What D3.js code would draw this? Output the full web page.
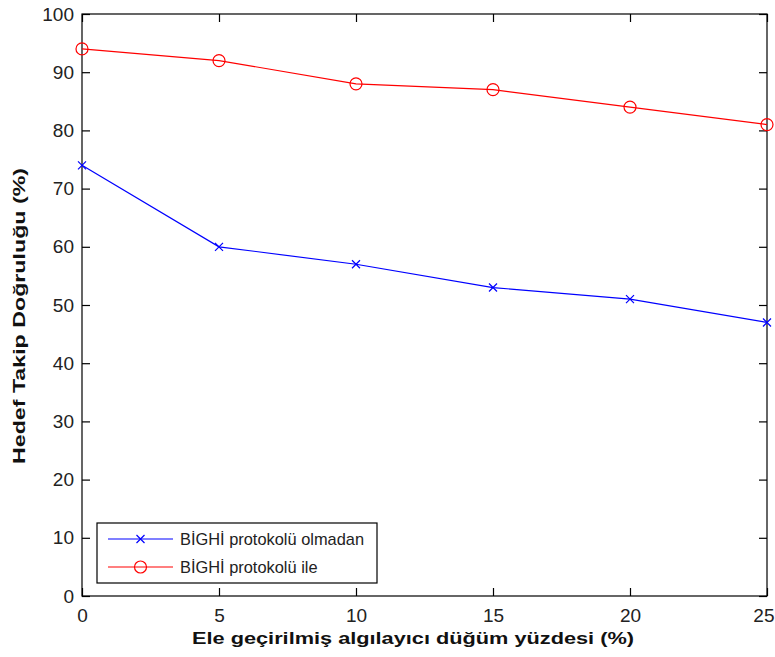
<!DOCTYPE html>
<html>
<head>
<meta charset="utf-8">
<script src="https://cdn.jsdelivr.net/npm/d3@7"></script>
<style>
  body { margin: 0; background: #fff; }
  svg { display: block; }
  text { font-family: "Liberation Sans", Arial, sans-serif; }
</style>
</head>
<body>
<svg id="chart" width="775" height="657"></svg>
<script>
// Percentage of captured sensor nodes
const xValues = [0, 5, 10, 15, 20, 25];
// Target tracking accuracy without / with the BİGHİ protocol
const withoutProtocol = [74, 60, 57, 53, 51, 47];
const withProtocol = [94, 92, 88, 87, 84, 81];
const xTicks = [0, 5, 10, 15, 20, 25];
const yTicks = [0, 10, 20, 30, 40, 50, 60, 70, 80, 90, 100];
const seriesNames = ["BİGHİ protokolü olmadan", "BİGHİ protokolü ile"];
const xLabel = "Ele geçirilmiş algılayıcı düğüm yüzdesi (%)";
const yLabel = "Hedef Takip Doğruluğu (%)";

const svg = d3.select("#chart");
const plotLeft = 82, plotRight = 767, plotTop = 14, plotBottom = 596;

const x = d3.scaleLinear().domain([0, 25]).range([plotLeft, plotRight]);
const y = d3.scaleLinear().domain([0, 100]).range([plotBottom, plotTop]);
const tickLen = 8;

// Plot box
svg.append("rect")
  .attr("x", plotLeft).attr("y", plotTop)
  .attr("width", plotRight - plotLeft).attr("height", plotBottom - plotTop)
  .attr("fill", "none").attr("stroke", "#000").attr("stroke-width", 1.2);

// Axes (ticks inward, on all four sides)
const xAxis = svg.append("g").attr("transform", `translate(0,${plotBottom})`)
  .call(d3.axisBottom(x).tickValues(xTicks).tickSizeInner(-tickLen).tickSizeOuter(0).tickPadding(13));
const xAxisTop = svg.append("g").attr("transform", `translate(0,${plotTop})`)
  .call(d3.axisTop(x).tickValues(xTicks).tickSizeInner(-tickLen).tickSizeOuter(0).tickFormat(""));
const yAxis = svg.append("g").attr("transform", `translate(${plotLeft},0)`)
  .call(d3.axisLeft(y).tickValues(yTicks).tickSizeInner(-tickLen).tickSizeOuter(0).tickPadding(8));
const yAxisRight = svg.append("g").attr("transform", `translate(${plotRight},0)`)
  .call(d3.axisRight(y).tickValues(yTicks).tickSizeInner(-tickLen).tickSizeOuter(0).tickFormat(""));

[xAxis, xAxisTop, yAxis, yAxisRight].forEach(g => {
  g.select(".domain").remove();
  g.selectAll(".tick line").attr("stroke", "#000").attr("stroke-width", 1.2);
  g.selectAll(".tick text")
    .attr("fill", "#222")
    .style("font-family", "'Liberation Sans', Arial, sans-serif")
    .style("font-size", "19px");
});

// Keep the last x tick label inside the page edge
xAxis.selectAll(".tick text")
  .filter(d => d === xTicks[xTicks.length - 1])
  .attr("text-anchor", "end")
  .attr("x", 774 - plotRight);

// Series
const line = d3.line().x((d, i) => x(xValues[i])).y(d => y(d));

svg.append("path").datum(withoutProtocol)
  .attr("d", line).attr("fill", "none").attr("stroke", "#0000ff").attr("stroke-width", 1.2);
svg.append("path").datum(withProtocol)
  .attr("d", line).attr("fill", "none").attr("stroke", "#ff0000").attr("stroke-width", 1.2);

function crossMarker(g, cx, cy) {
  const s = 4;
  g.append("path")
    .attr("d", `M${cx - s},${cy - s}L${cx + s},${cy + s}M${cx - s},${cy + s}L${cx + s},${cy - s}`)
    .attr("stroke", "#0000ff").attr("stroke-width", 1.2).attr("fill", "none");
}
function circleMarker(g, cx, cy) {
  g.append("circle").attr("cx", cx).attr("cy", cy).attr("r", 6)
    .attr("fill", "none").attr("stroke", "#ff0000").attr("stroke-width", 1.2);
}

const marks = svg.append("g");
withoutProtocol.forEach((v, i) => crossMarker(marks, x(xValues[i]), y(v)));
withProtocol.forEach((v, i) => circleMarker(marks, x(xValues[i]), y(v)));

// Axis titles
svg.append("text")
  .attr("x", 413).attr("y", 644)
  .attr("text-anchor", "middle")
  .attr("font-weight", "bold").attr("font-size", "17px")
  .attr("textLength", 442).attr("lengthAdjust", "spacingAndGlyphs")
  .attr("fill", "#111")
  .text(xLabel);

svg.append("text")
  .attr("transform", "translate(25,316) rotate(-90)")
  .attr("text-anchor", "middle")
  .attr("font-weight", "bold").attr("font-size", "17px")
  .attr("textLength", 296).attr("lengthAdjust", "spacingAndGlyphs")
  .attr("fill", "#111")
  .text(yLabel);

// Legend
const legend = svg.append("g");
legend.append("rect")
  .attr("x", 97).attr("y", 523).attr("width", 280).attr("height", 60)
  .attr("fill", "#fff").attr("stroke", "#000").attr("stroke-width", 1.2);

const legendRows = [
  { name: seriesNames[0], color: "#0000ff", marker: crossMarker, yy: 539 },
  { name: seriesNames[1], color: "#ff0000", marker: circleMarker, yy: 567 }
];
legendRows.forEach(r => {
  legend.append("line")
    .attr("x1", 108).attr("x2", 173).attr("y1", r.yy).attr("y2", r.yy)
    .attr("stroke", r.color).attr("stroke-width", 1.2);
  r.marker(legend, 140.5, r.yy);
  legend.append("text")
    .attr("x", 180).attr("y", r.yy + 6)
    .attr("font-size", "16.4px").attr("fill", "#222")
    .text(r.name);
});
</script>
</body>
</html>
